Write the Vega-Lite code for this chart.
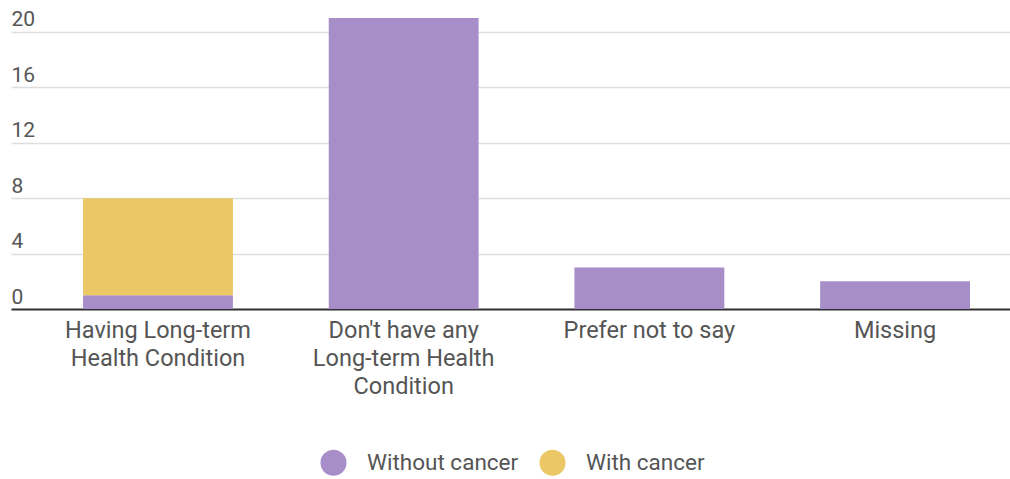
{
  "$schema": "https://vega.github.io/schema/vega-lite/v6.json",
  "width": 999,
  "height": 309,
  "autosize": {"type": "none"},
  "padding": {"left": 11, "top": 0, "right": 0, "bottom": 170},
  "background": "white",
  "config": {
    "view": {"stroke": null},
    "font": "Roboto",
    "axis": {"labelFont": "Roboto", "labelColor": "#555555", "title": null}
  },
  "data": {
    "values": [
      {"group": "Having Long-term|Health Condition", "series": "Without cancer", "count": 1},
      {"group": "Having Long-term|Health Condition", "series": "With cancer", "count": 7},
      {"group": "Don't have any|Long-term Health|Condition", "series": "Without cancer", "count": 21},
      {"group": "Don't have any|Long-term Health|Condition", "series": "With cancer", "count": 0},
      {"group": "Prefer not to say", "series": "Without cancer", "count": 3},
      {"group": "Prefer not to say", "series": "With cancer", "count": 0},
      {"group": "Missing", "series": "Without cancer", "count": 2},
      {"group": "Missing", "series": "With cancer", "count": 0}
    ]
  },
  "mark": {"type": "bar"},
  "encoding": {
    "x": {
      "field": "group",
      "type": "nominal",
      "sort": null,
      "scale": {"paddingInner": 0.39, "paddingOuter": 0.228, "align": 0.643},
      "axis": {
        "labelExpr": "split(datum.label, '|')",
        "labelAngle": 0,
        "labelFontSize": 23.5,
        "labelLineHeight": 28,
        "labelPadding": 9,
        "labelLimit": 0,
        "ticks": false,
        "domainColor": "#333333",
        "domainWidth": 2,
        "grid": false
      }
    },
    "y": {
      "field": "count",
      "type": "quantitative",
      "stack": "zero",
      "scale": {"domain": [0, 22.3], "nice": false},
      "axis": {
        "values": [0, 4, 8, 12, 16, 20],
        "orient": "left",
        "domain": false,
        "ticks": false,
        "tickSize": 0,
        "labelAlign": "left",
        "labelBaseline": "alphabetic",
        "labelPadding": 0,
        "labelOffset": -6,
        "labelFontSize": 21,
        "gridColor": "#dddddd",
        "gridWidth": 1.5
      }
    },
    "color": {
      "field": "series",
      "type": "nominal",
      "scale": {"domain": ["Without cancer", "With cancer"], "range": ["#a88ec8", "#ebc766"]},
      "legend": {
        "title": null,
        "orient": "none",
        "direction": "horizontal",
        "legendX": 309,
        "legendY": 449,
        "symbolType": "circle",
        "symbolSize": 680,
        "symbolStrokeWidth": 0,
        "labelFontSize": 22.5,
        "labelColor": "#555555",
        "labelOffset": 20,
        "columnPadding": 20
      }
    },
    "order": {"field": "series", "sort": "descending"}
  }
}
